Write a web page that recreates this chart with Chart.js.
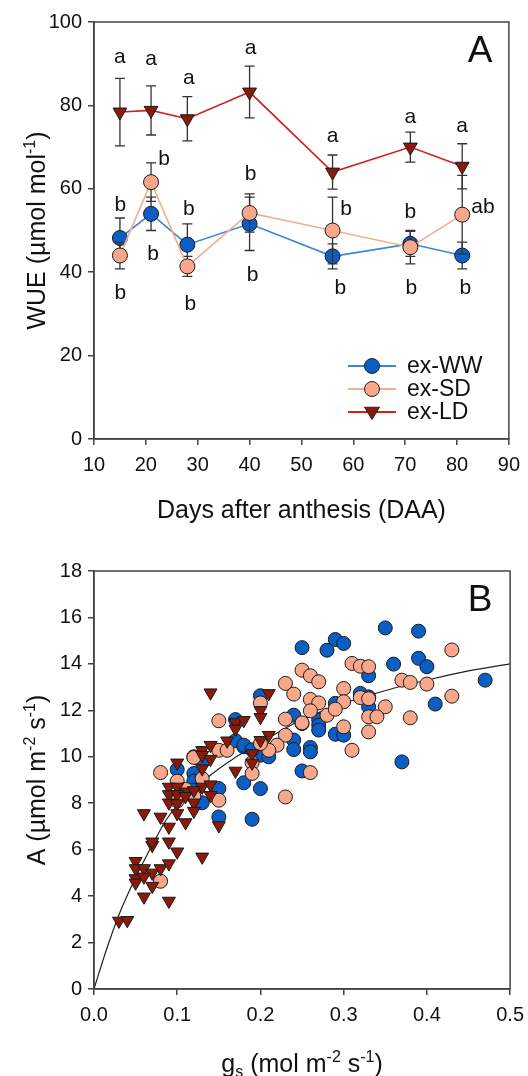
<!DOCTYPE html>
<html><head><meta charset="utf-8">
<script src="https://cdn.jsdelivr.net/npm/chart.js@4.4.0/dist/chart.umd.min.js"></script>
<style>
html,body{margin:0;padding:0;background:#fff;}
#wrap{position:relative;width:528px;height:1076px;overflow:hidden;}
#chartA{position:absolute;left:0;top:0;}
#chartB{position:absolute;left:0;top:540px;}
</style></head><body>
<div id="wrap">
<canvas id="chartA" width="528" height="540"></canvas>
<canvas id="chartB" width="532" height="536"></canvas>
</div>
<script>
// ---------- Panel A data ----------
const days = [15, 21, 28, 40, 56, 71, 81];
const wueWW = [48.2, 54.0, 46.6, 51.6, 43.8, 46.8, 44.0];
const errWW = [4.8, 4.0, 5.0, 6.4, 3.0, 3.0, 3.2];
const wueSD = [44.0, 61.6, 41.4, 54.2, 50.0, 46.0, 53.8];
const errSD = [3.2, 4.6, 2.4, 4.6, 8.0, 4.0, 9.4];
const wueLD = [78.4, 78.8, 76.8, 83.2, 64.0, 70.0, 65.4];
const errLD = [8.1, 5.9, 5.3, 6.2, 4.1, 3.6, 5.4];
const letterDays = [15, 21, 28.3, 40.2, 56, 71, 81, 23.5, 15.1, 28.3, 40.2, 58.6, 71, 85, 21.4, 40.6, 15.1, 28.6, 57.5, 71.2, 81.6];
const letterVals = [91.6, 91.0, 86.6, 93.6, 72.7, 77.1, 74.9, 67.0, 56.1, 55.1, 63.5, 55.1, 54.5, 55.7, 44.4, 39.3, 35.0, 32.4, 36.2, 36.2, 36.2];
const letterTexts = ['a','a','a','a','a','a','a','b','b','b','b','b','b','ab','b','b','b','b','b','b','b'];
const xTicksA = [10, 20, 30, 40, 50, 60, 70, 80, 90];
const yTicksA = [0, 20, 40, 60, 80, 100];

// ---------- Panel B data ----------
const gsWW = [0.35,0.39,0.25,0.29,0.30,0.28,0.36,0.39,0.40,0.47,0.33,0.41,0.32,0.33,0.33,0.29,0.20,0.17,0.24,0.25,0.27,0.27,0.27,0.29,0.30,0.24,0.24,0.26,0.26,0.17,0.18,0.20,0.21,0.12,0.12,0.12,0.13,0.10,0.25,0.37,0.18,0.20,0.15,0.13,0.15,0.19,0.18,0.19,0.12];
const aWW  = [15.55,15.41,14.70,15.05,14.88,14.59,13.99,14.24,13.88,13.30,13.49,12.27,12.73,12.58,12.15,12.30,12.63,11.60,11.79,11.43,11.58,11.36,11.15,10.97,10.93,10.72,10.31,10.40,10.21,10.69,10.43,10.07,10.00,9.28,8.95,8.56,9.78,9.45,9.39,9.78,8.88,8.63,8.63,8.02,7.41,7.31,10.50,10.30,10.00];
const gsSD = [0.43,0.31,0.32,0.33,0.25,0.26,0.27,0.23,0.37,0.38,0.40,0.43,0.24,0.30,0.30,0.26,0.27,0.26,0.28,0.29,0.32,0.33,0.35,0.38,0.33,0.34,0.33,0.30,0.23,0.25,0.15,0.20,0.23,0.22,0.31,0.21,0.20,0.15,0.16,0.12,0.19,0.19,0.26,0.08,0.10,0.13,0.12,0.15,0.23,0.08,0.10,0.11];
const aSD  = [14.60,14.02,13.90,13.88,13.73,13.49,13.23,13.16,13.30,13.20,13.13,12.61,12.70,12.94,12.37,12.47,12.32,11.98,11.79,12.05,12.55,12.50,12.15,11.68,11.72,11.72,11.07,11.29,11.62,11.46,11.55,12.32,10.93,10.50,10.28,10.28,10.57,10.28,10.28,9.97,9.74,9.28,9.32,9.32,8.95,9.06,8.30,8.13,8.27,4.64,8.10,8.60];
const gsLD = [0.14,0.21,0.20,0.20,0.17,0.18,0.17,0.21,0.20,0.16,0.14,0.13,0.13,0.14,0.10,0.13,0.19,0.19,0.17,0.09,0.10,0.11,0.13,0.14,0.14,0.09,0.10,0.09,0.10,0.12,0.12,0.06,0.08,0.10,0.11,0.09,0.15,0.07,0.07,0.09,0.10,0.13,0.05,0.05,0.06,0.07,0.08,0.09,0.05,0.05,0.06,0.07,0.06,0.09,0.03,0.04,0.12,0.11];
const aLD  = [12.76,12.73,12.00,11.70,11.48,11.57,11.20,10.93,10.71,10.69,10.50,10.28,10.07,9.90,9.74,9.49,10.14,9.74,9.39,8.70,8.70,8.49,8.70,8.80,8.34,8.38,8.38,8.02,7.99,8.02,7.66,7.56,7.41,7.56,7.17,6.98,7.04,6.19,6.34,6.34,5.91,5.69,5.50,5.19,5.19,5.00,5.19,5.40,4.76,4.57,4.83,4.43,3.97,3.79,2.93,2.96,8.55,8.30];
const fitGs = [0, 0.015, 0.03, 0.05, 0.07, 0.087, 0.1, 0.1375, 0.168, 0.2, 0.244, 0.3, 0.357, 0.4, 0.45, 0.5];
const fitA  = [0, 1.7, 3.2, 4.8, 6.2, 7.3, 7.9, 9.14, 9.93, 10.6, 11.5, 12.3, 12.92, 13.3, 13.7, 14.0];
const xTicksB = [0, 0.1, 0.2, 0.3, 0.4, 0.5];
const yTicksB = [0, 2, 4, 6, 8, 10, 12, 14, 16, 18];

// ---------- styles ----------
const FONT = '"Liberation Sans", Arial, Helvetica, sans-serif';
const AXIS = '#444';
const C = {
  wwLine:'#3b86d6', wwFill:'#0b5ec4',
  sdLine:'#f4ad95', sdFill:'#f8a78b',
  ldLine:'#cc2222', ldFill:'#8a1b0b'
};

function drawRich(ctx, parts, cx, cy, rot, size){
  ctx.save();
  ctx.translate(cx, cy); ctx.rotate(rot);
  const small = Math.round(size*0.62);
  let total = 0;
  const w = parts.map(p=>{ ctx.font = (p.s ? small : size) + 'px ' + FONT; const m = ctx.measureText(p.t).width; total += m; return m; });
  let x = -total/2;
  ctx.textBaseline = 'alphabetic'; ctx.textAlign = 'left'; ctx.fillStyle = '#111';
  parts.forEach((p,i)=>{
    ctx.font = (p.s ? small : size) + 'px ' + FONT;
    const dy = p.s === 1 ? -size*0.4 : (p.s === -1 ? size*0.2 : 0);
    ctx.fillText(p.t, x, size*0.36 + dy);
    x += w[i];
  });
  ctx.restore();
}

const framePlugin = {
  id:'frame',
  afterDatasetsDraw(chart){
    const {ctx, chartArea:a} = chart;
    ctx.save(); ctx.strokeStyle = AXIS; ctx.lineWidth = 1.5;
    ctx.strokeRect(a.left, a.top, a.right - a.left, a.bottom - a.top);
    ctx.restore();
  }
};

const errPlugin = {
  id:'errbars',
  beforeDatasetDraw(chart, args, opts){
    const errs = opts.sets && opts.sets[args.index];
    if(!errs) return;
    const ds = chart.data.datasets[args.index];
    const {ctx, scales:{x, y}} = chart;
    ctx.save(); ctx.strokeStyle = '#333'; ctx.lineWidth = 1.3;
    ds.data.forEach((p,i)=>{
      const px = x.getPixelForValue(p.x);
      const t = y.getPixelForValue(p.y + errs[i]);
      const b = y.getPixelForValue(p.y - errs[i]);
      ctx.beginPath();
      ctx.moveTo(px, t); ctx.lineTo(px, b);
      ctx.moveTo(px-5, t); ctx.lineTo(px+5, t);
      ctx.moveTo(px-5, b); ctx.lineTo(px+5, b);
      ctx.stroke();
    });
    ctx.restore();
  }
};

const lettersPlugin = {
  id:'letters',
  afterDatasetsDraw(chart){
    const {ctx, scales:{x, y}} = chart;
    ctx.save(); ctx.fillStyle = '#111'; ctx.font = '21px ' + FONT;
    ctx.textAlign = 'center'; ctx.textBaseline = 'middle';
    letterTexts.forEach((t,i)=>{
      ctx.fillText(t, x.getPixelForValue(letterDays[i]), y.getPixelForValue(letterVals[i]));
    });
    ctx.restore();
  }
};

function markerPath(ctx, style, x, y, r){
  ctx.beginPath();
  if(style === 'triangle'){
    const hw = r*0.866;
    ctx.moveTo(x - hw - 1, y - r*0.5 - 1);
    ctx.lineTo(x + hw + 1, y - r*0.5 - 1);
    ctx.lineTo(x, y + r);
    ctx.closePath();
  } else {
    ctx.arc(x, y, r, 0, Math.PI*2);
  }
}

const legendPlugin = {
  id:'customLegend',
  afterDraw(chart, args, opts){
    if(!opts.rows) return;
    const ctx = chart.ctx;
    ctx.save();
    opts.rows.forEach((row)=>{
      const ds = chart.data.datasets[row.index];
      ctx.strokeStyle = ds.borderColor; ctx.lineWidth = 2;
      ctx.beginPath(); ctx.moveTo(opts.x0, row.y); ctx.lineTo(opts.x1, row.y); ctx.stroke();
      ctx.fillStyle = ds.pointBackgroundColor; ctx.strokeStyle = '#222'; ctx.lineWidth = 1;
      markerPath(ctx, ds.pointStyle, (opts.x0+opts.x1)/2, row.y, 7.5);
      ctx.fill(); ctx.stroke();
      ctx.fillStyle = '#111'; ctx.font = '23px ' + FONT; ctx.textAlign = 'left'; ctx.textBaseline = 'middle';
      ctx.fillText(ds.label, opts.tx, row.y + 1);
    });
    ctx.restore();
  }
};

const titlesPlugin = {
  id:'titles',
  afterDraw(chart, args, opts){
    const {ctx, chartArea:a} = chart;
    const cx = (a.left + a.right)/2, cy = (a.top + a.bottom)/2;
    drawRich(ctx, opts.x, cx, a.bottom + opts.xOff, 0, 25);
    drawRich(ctx, opts.y, opts.yX, cy, -Math.PI/2, 25);
    ctx.save(); ctx.fillStyle = '#111'; ctx.font = '37px ' + FONT; ctx.textAlign = 'center'; ctx.textBaseline = 'alphabetic';
    ctx.fillText(opts.panel, opts.px, opts.py);
    ctx.restore();
  }
};

function axisCommon(min, max, ticksArr, fmt, isX, size){
  return {
    type:'linear', min:min, max:max,
    afterBuildTicks(scale){ scale.ticks = ticksArr.map(v=>({value:v})); },
    afterFit(scale){ if(isX) scale.height = size; else scale.width = size; },
    ticks:{ color:'#111', font:{family:FONT, size:20}, padding: isX ? 8 : 6, callback: fmt, maxRotation:0, autoSkip:false },
    grid:{ display:true, drawOnChartArea:false, drawTicks:true, tickLength:6, color:AXIS, lineWidth:1.5 },
    border:{ display:true, color:AXIS, width:1.5 },
    title:{ display:false }
  };
}

// ---------- Chart A ----------
new Chart(document.getElementById('chartA'), {
  type:'line',
  data:{ datasets:[
    { label:'ex-WW', data: days.map((d,i)=>({x:d, y:wueWW[i]})), borderColor:C.wwLine, borderWidth:1.6,
      pointBackgroundColor:C.wwFill, pointBorderColor:'#1a1a1a', pointBorderWidth:1, pointRadius:7.5, pointStyle:'circle', order:3 },
    { label:'ex-SD', data: days.map((d,i)=>({x:d, y:wueSD[i]})), borderColor:C.sdLine, borderWidth:1.6,
      pointBackgroundColor:C.sdFill, pointBorderColor:'#1a1a1a', pointBorderWidth:1, pointRadius:7.5, pointStyle:'circle', order:2 },
    { label:'ex-LD', data: days.map((d,i)=>({x:d, y:wueLD[i]})), borderColor:C.ldLine, borderWidth:1.6,
      pointBackgroundColor:C.ldFill, pointBorderColor:'#1a1a1a', pointBorderWidth:1, pointRadius:8, pointStyle:'triangle', rotation:180, order:1 }
  ]},
  options:{
    responsive:false, animation:false, devicePixelRatio:1,
    layout:{ padding:{ top:22, right:8, left:0, bottom:0 } },
    plugins:{
      legend:{display:false}, tooltip:{enabled:false},
      errbars:{ sets:{0:errWW, 1:errSD, 2:errLD} },
      customLegend:{ x0:348, x1:396, tx:407, rows:[{index:0, y:366},{index:1, y:389},{index:2, y:412}] },
      titles:{ x:[{t:'Days after anthesis (DAA)', s:0}], xOff:70, y:[{t:'WUE (\u00b5mol mol', s:0},{t:'-1', s:1},{t:')', s:0}], yX:36, panel:'A', px:480, py:62 }
    },
    scales:{
      x: axisCommon(10, 90, xTicksA, v=>String(v), true, 101),
      y: axisCommon(0, 100, yTicksA, v=>String(v), false, 94)
    }
  },
  plugins:[framePlugin, errPlugin, lettersPlugin, legendPlugin, titlesPlugin]
});

// ---------- Chart B ----------
new Chart(document.getElementById('chartB'), {
  type:'scatter',
  data:{ datasets:[
    { label:'ex-WW', data: gsWW.map((g,i)=>({x:g, y:aWW[i]})), pointBackgroundColor:C.wwFill, pointBorderColor:'#1a1a1a',
      pointBorderWidth:1, pointRadius:7, pointStyle:'circle', order:3 },
    { label:'ex-SD', data: gsSD.map((g,i)=>({x:g, y:aSD[i]})), pointBackgroundColor:C.sdFill, pointBorderColor:'#1a1a1a',
      pointBorderWidth:1, pointRadius:7, pointStyle:'circle', order:2 },
    { label:'ex-LD', data: gsLD.map((g,i)=>({x:g, y:aLD[i]})), pointBackgroundColor:C.ldFill, pointBorderColor:'#1a1a1a',
      pointBorderWidth:1, pointRadius:7.5, pointStyle:'triangle', rotation:180, order:1 },
    { label:'fit', type:'line', data: fitGs.map((g,i)=>({x:g, y:fitA[i]})), borderColor:'#222', borderWidth:1.2,
      pointRadius:0, showLine:true, cubicInterpolationMode:'monotone', order:4 }
  ]},
  options:{
    responsive:false, animation:false, devicePixelRatio:1,
    layout:{ padding:{ top:31, right:1, left:0, bottom:0 } },
    plugins:{
      legend:{display:false}, tooltip:{enabled:false},
      titles:{ x:[{t:'g', s:0},{t:'s', s:-1},{t:' (mol m', s:0},{t:'-2', s:1},{t:' s', s:0},{t:'-1', s:1},{t:')', s:0}], xOff:74,
               y:[{t:'A (\u00b5mol m', s:0},{t:'-2', s:1},{t:' s', s:0},{t:'-1', s:1},{t:')', s:0}], yX:36, panel:'B', px:480, py:71 }
    },
    scales:{
      x: axisCommon(0, 0.5, xTicksB, v=>Number(v).toFixed(1), true, 87),
      y: axisCommon(0, 18, yTicksB, v=>String(v), false, 94)
    }
  },
  plugins:[framePlugin, titlesPlugin]
});
</script>
</body></html>
